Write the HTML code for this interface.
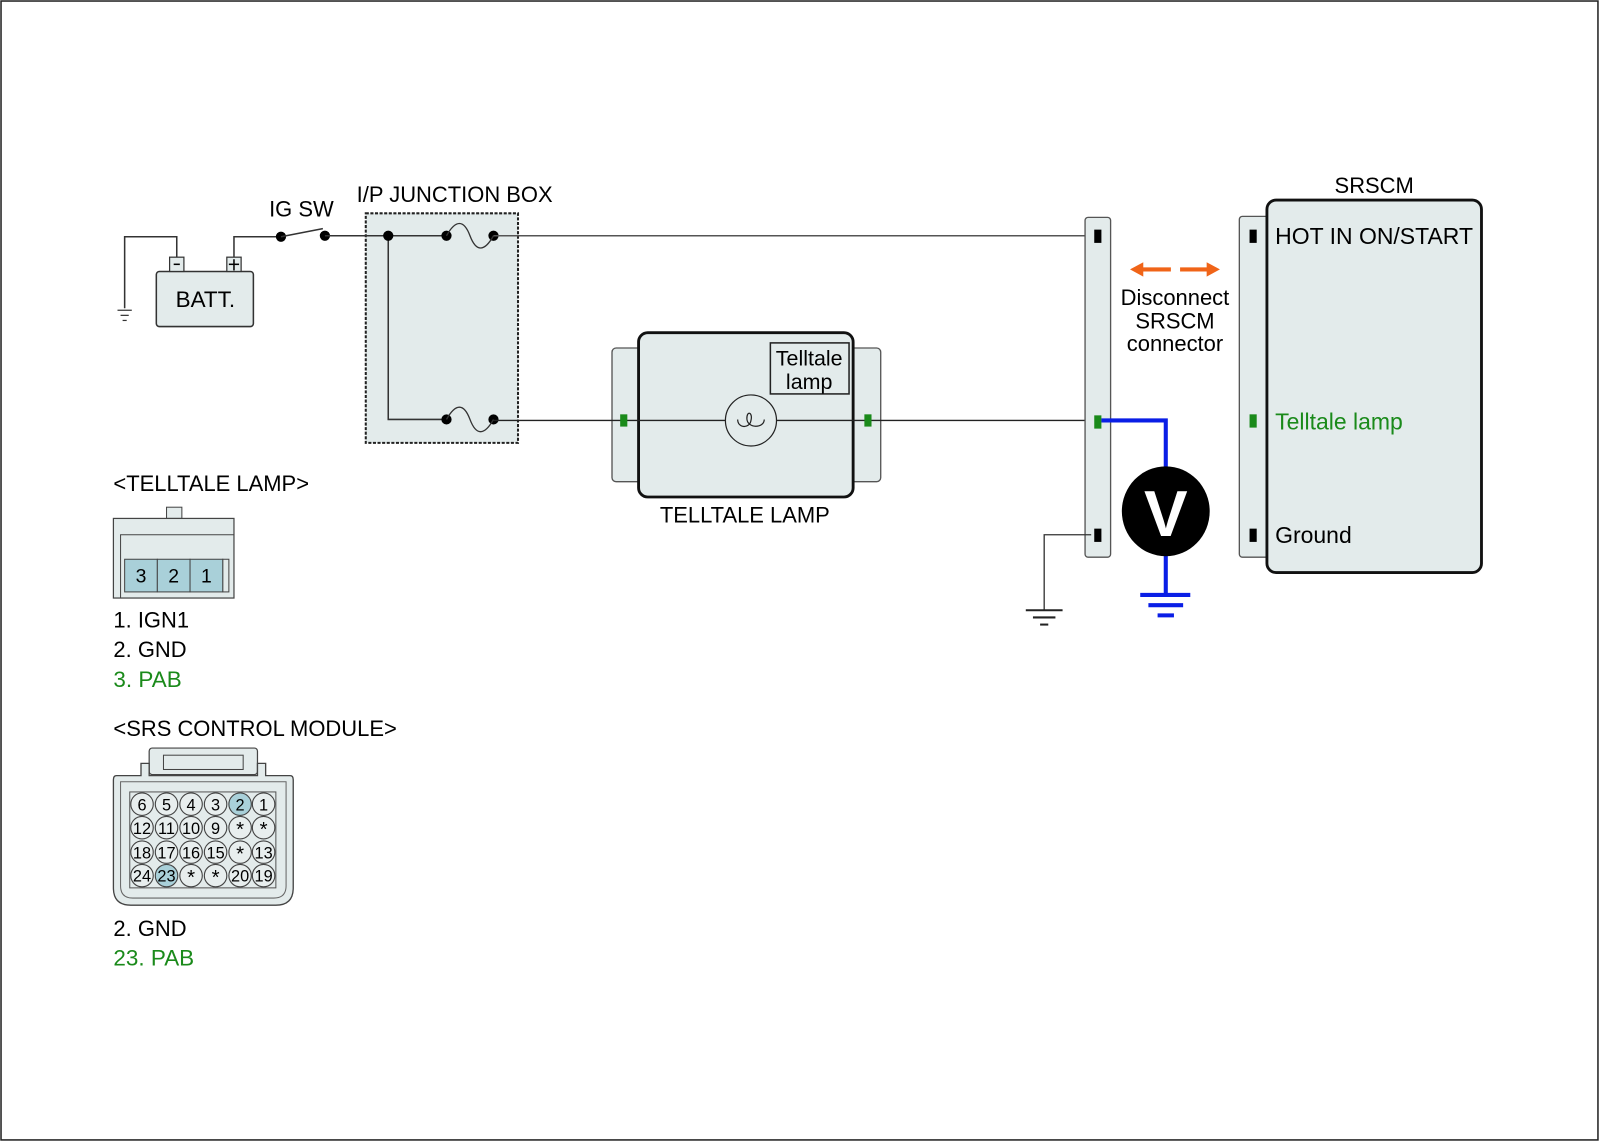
<!DOCTYPE html>
<html><head><meta charset="utf-8"><style>
html,body{margin:0;padding:0;background:#fff;}
svg{display:block;}
text{font-family:"Liberation Sans",sans-serif;}
</style></head><body>
<svg width="1600" height="1143" viewBox="0 0 1566 1120" preserveAspectRatio="none" xmlns="http://www.w3.org/2000/svg">
<rect x="1" y="1" width="1563" height="1116" fill="#fff" stroke="#222" stroke-width="1.5"/>

<!-- Battery -->
<polyline points="173,252 173,232 122,232 122,302" fill="none" stroke="#333" stroke-width="1.5"/>
<line x1="115" y1="304" x2="129" y2="304" stroke="#333" stroke-width="1.2"/>
<line x1="118" y1="309" x2="126" y2="309" stroke="#333" stroke-width="1.2"/>
<line x1="120" y1="314" x2="124" y2="314" stroke="#333" stroke-width="1.2"/>
<rect x="153" y="266" width="95" height="54" rx="3" fill="#e3ebeb" stroke="#333" stroke-width="1.5"/>
<rect x="166" y="252" width="14" height="14" fill="#e3ebeb" stroke="#333" stroke-width="1.2"/>
<rect x="222" y="252" width="14" height="14" fill="#e3ebeb" stroke="#333" stroke-width="1.2"/>
<line x1="170" y1="259" x2="176" y2="259" stroke="#000" stroke-width="1.5"/>
<line x1="224" y1="259" x2="234" y2="259" stroke="#000" stroke-width="1.5"/>
<line x1="229" y1="254" x2="229" y2="265" stroke="#000" stroke-width="1.5"/>
<text x="201" y="301" font-size="22" text-anchor="middle">BATT.</text>
<polyline points="229,252 229,232 275,232" fill="none" stroke="#333" stroke-width="1.5"/>
<circle cx="275" cy="232" r="5" fill="#000"/>
<line x1="275" y1="232" x2="316" y2="224" stroke="#333" stroke-width="1.5"/>
<circle cx="318" cy="231" r="5" fill="#000"/>
<text x="295" y="212" font-size="21.5" text-anchor="middle">IG SW</text>
<text x="445" y="198" font-size="21.5" text-anchor="middle">I/P JUNCTION BOX</text>

<!-- Junction box -->
<rect x="358" y="209" width="149" height="225" fill="#e3ebeb" stroke="#222" stroke-width="2" stroke-dasharray="3,1.5"/>
<line x1="318" y1="231" x2="437" y2="231" stroke="#333" stroke-width="1.5"/>
<polyline points="380,231 380,411 437,411" fill="none" stroke="#333" stroke-width="1.5"/>
<circle cx="380" cy="231" r="5" fill="#000"/>
<circle cx="437" cy="231" r="5" fill="#000"/>
<circle cx="483" cy="231" r="5" fill="#000"/>
<path d="M437,231 C446,215 454,215 460,231 C466,247 474,247 483,231" fill="none" stroke="#333" stroke-width="1.3"/>
<circle cx="437" cy="411" r="5" fill="#000"/>
<circle cx="483" cy="411" r="5" fill="#000"/>
<path d="M437,411 C446,395 454,395 460,411 C466,427 474,427 483,411" fill="none" stroke="#333" stroke-width="1.3"/>
<line x1="483" y1="231" x2="1068" y2="231" stroke="#555" stroke-width="1.5"/>

<!-- Telltale lamp -->
<rect x="599" y="341" width="263" height="131" rx="4" fill="#e3ebeb" stroke="#555" stroke-width="1.3"/>
<rect x="625" y="326" width="210" height="161" rx="9" fill="#e3ebeb" stroke="#111" stroke-width="2.8"/>
<rect x="754" y="336" width="77" height="50" fill="#e3ebeb" stroke="#222" stroke-width="1.5"/>
<text x="792" y="358" font-size="21" text-anchor="middle">Telltale</text>
<text x="792" y="381" font-size="21" text-anchor="middle">lamp</text>
<line x1="483" y1="412" x2="1070" y2="412" stroke="#222" stroke-width="1.3"/>
<circle cx="735" cy="412" r="25" fill="#e3ebeb" stroke="#222" stroke-width="1.2"/>
<path d="M722,411 C722,420 734,420 735,412 C737,404 731,402 731,410 C731,420 748,420 748,411" fill="none" stroke="#222" stroke-width="1.2"/>
<rect x="607" y="406" width="7" height="12" fill="#1a8a1a"/>
<rect x="846" y="406" width="7" height="12" fill="#1a8a1a"/>
<text x="729" y="512" font-size="21.5" text-anchor="middle">TELLTALE LAMP</text>

<!-- Left connector bar -->
<rect x="1062" y="213" width="25" height="333" rx="3" fill="#e3ebeb" stroke="#555" stroke-width="1.3"/>
<rect x="1071" y="225" width="7" height="13" fill="#000"/>
<rect x="1071" y="407" width="7" height="13" fill="#1a8a1a"/>
<rect x="1071" y="518" width="7" height="13" fill="#000"/>
<polyline points="1068,524 1022,524 1022,598" fill="none" stroke="#333" stroke-width="1.3"/>
<line x1="1004" y1="598" x2="1040" y2="598" stroke="#222" stroke-width="2"/>
<line x1="1011" y1="605" x2="1033" y2="605" stroke="#222" stroke-width="2"/>
<line x1="1018" y1="612" x2="1026" y2="612" stroke="#222" stroke-width="2"/>

<!-- Voltmeter -->
<polyline points="1078,412 1141,412 1141,462" fill="none" stroke="#0a1ee6" stroke-width="4"/>
<line x1="1141" y1="540" x2="1141" y2="583" stroke="#0a1ee6" stroke-width="4"/>
<line x1="1116" y1="583" x2="1165" y2="583" stroke="#0a1ee6" stroke-width="4"/>
<line x1="1124" y1="593" x2="1158" y2="593" stroke="#0a1ee6" stroke-width="4"/>
<line x1="1133" y1="603" x2="1149" y2="603" stroke="#0a1ee6" stroke-width="4"/>
<ellipse cx="1141" cy="501" rx="43" ry="44" fill="#000"/>
<text x="1141" y="525" font-size="64" font-weight="bold" fill="#fff" text-anchor="middle">V</text>

<!-- Arrows -->
<line x1="1117" y1="264" x2="1146" y2="264" stroke="#f06418" stroke-width="4"/>
<polygon points="1106,264 1119,257 1119,271" fill="#f06418"/>
<line x1="1155" y1="264" x2="1183" y2="264" stroke="#f06418" stroke-width="4"/>
<polygon points="1194,264 1181,257 1181,271" fill="#f06418"/>
<text x="1150" y="299" font-size="21.5" text-anchor="middle">Disconnect</text>
<text x="1150" y="322" font-size="21.5" text-anchor="middle">SRSCM</text>
<text x="1150" y="344" font-size="21.5" text-anchor="middle">connector</text>

<!-- SRSCM -->
<text x="1345" y="189" font-size="21.5" text-anchor="middle">SRSCM</text>
<rect x="1213" y="212" width="40" height="334" rx="3" fill="#e3ebeb" stroke="#555" stroke-width="1.3"/>
<rect x="1240" y="196" width="210" height="365" rx="9" fill="#e3ebeb" stroke="#111" stroke-width="2.8"/>
<rect x="1223" y="225" width="7" height="13" fill="#000"/>
<rect x="1223" y="406" width="7" height="13" fill="#1a8a1a"/>
<rect x="1223" y="518" width="7" height="13" fill="#000"/>
<text x="1248" y="239" font-size="22.5">HOT IN ON/START</text>
<text x="1248" y="421" font-size="22.5" fill="#1a8a1a">Telltale lamp</text>
<text x="1248" y="532" font-size="22.5">Ground</text>

<!-- Telltale lamp connector -->
<text x="111" y="481" font-size="21.5">&lt;TELLTALE LAMP&gt;</text>
<rect x="163" y="497" width="15" height="11" fill="#e3ebeb" stroke="#444" stroke-width="1"/>
<rect x="111" y="508" width="118" height="78" fill="#e3ebeb" stroke="#444" stroke-width="1.2"/>
<polyline points="118,586 118,524 229,524" fill="none" stroke="#444" stroke-width="1"/>
<rect x="218" y="548" width="6" height="32" fill="#e3ebeb" stroke="#444" stroke-width="1"/>
<rect x="122" y="548" width="32" height="32" fill="#a9d0d9" stroke="#444" stroke-width="1"/>
<rect x="154" y="548" width="32" height="32" fill="#a9d0d9" stroke="#444" stroke-width="1"/>
<rect x="186" y="548" width="32" height="32" fill="#a9d0d9" stroke="#444" stroke-width="1"/>
<text x="138" y="571" font-size="19" text-anchor="middle">3</text>
<text x="170" y="571" font-size="19" text-anchor="middle">2</text>
<text x="202" y="571" font-size="19" text-anchor="middle">1</text>
<text x="111" y="615" font-size="21.5">1. IGN1</text>
<text x="111" y="644" font-size="21.5">2. GND</text>
<text x="111" y="673" font-size="22" fill="#1a8a1a">3. PAB</text>

<!-- SRS control module connector -->
<text x="111" y="721" font-size="21.5">&lt;SRS CONTROL MODULE&gt;</text>
<rect x="146" y="733" width="106" height="26" rx="3" fill="#e3ebeb" stroke="#444" stroke-width="1.2"/>
<rect x="160" y="740" width="78" height="14" fill="#e3ebeb" stroke="#444" stroke-width="1"/>
<path d="M114,760 L138,760 L138,748 L146,748 L146,760 L252,760 L252,748 L260,748 L260,760 L284,760 Q287,760 287,764 L287,870 Q287,887 270,887 L128,887 Q111,887 111,870 L111,764 Q111,760 114,760 Z" fill="#e3ebeb" stroke="#444" stroke-width="1.3"/>
<path d="M118,766 L280,766 L280,868 Q280,880 268,880 L130,880 Q118,880 118,868 Z" fill="none" stroke="#666" stroke-width="1"/>
<rect x="127" y="776" width="143" height="94" fill="#e3ebeb" stroke="#555" stroke-width="1"/>
<g stroke="#444" stroke-width="1.1" fill="#e8eeee">
<circle cx="139" cy="788" r="11"/><circle cx="163" cy="788" r="11"/><circle cx="187" cy="788" r="11"/><circle cx="211" cy="788" r="11"/><circle cx="235" cy="788" r="11" fill="#a9d0d9"/><circle cx="258" cy="788" r="11"/>
<circle cx="139" cy="811" r="11"/><circle cx="163" cy="811" r="11"/><circle cx="187" cy="811" r="11"/><circle cx="211" cy="811" r="11"/><circle cx="235" cy="811" r="11"/><circle cx="258" cy="811" r="11"/>
<circle cx="139" cy="835" r="11"/><circle cx="163" cy="835" r="11"/><circle cx="187" cy="835" r="11"/><circle cx="211" cy="835" r="11"/><circle cx="235" cy="835" r="11"/><circle cx="258" cy="835" r="11"/>
<circle cx="139" cy="858" r="11"/><circle cx="163" cy="858" r="11" fill="#a9d0d9"/><circle cx="187" cy="858" r="11"/><circle cx="211" cy="858" r="11"/><circle cx="235" cy="858" r="11"/><circle cx="258" cy="858" r="11"/>
</g>
<g font-size="16" text-anchor="middle">
<text x="139" y="794">6</text><text x="163" y="794">5</text><text x="187" y="794">4</text><text x="211" y="794">3</text><text x="235" y="794">2</text><text x="258" y="794">1</text>
<text x="139" y="817">12</text><text x="163" y="817">11</text><text x="187" y="817">10</text><text x="211" y="817">9</text><text x="235" y="819" font-size="20">*</text><text x="258" y="819" font-size="20">*</text>
<text x="139" y="841">18</text><text x="163" y="841">17</text><text x="187" y="841">16</text><text x="211" y="841">15</text><text x="235" y="843" font-size="20">*</text><text x="258" y="841">13</text>
<text x="139" y="864">24</text><text x="163" y="864">23</text><text x="187" y="866" font-size="20">*</text><text x="211" y="866" font-size="20">*</text><text x="235" y="864">20</text><text x="258" y="864">19</text>
</g>
<text x="111" y="917" font-size="21.5">2. GND</text>
<text x="111" y="946" font-size="22" fill="#1a8a1a">23. PAB</text>
</svg>
</body></html>
